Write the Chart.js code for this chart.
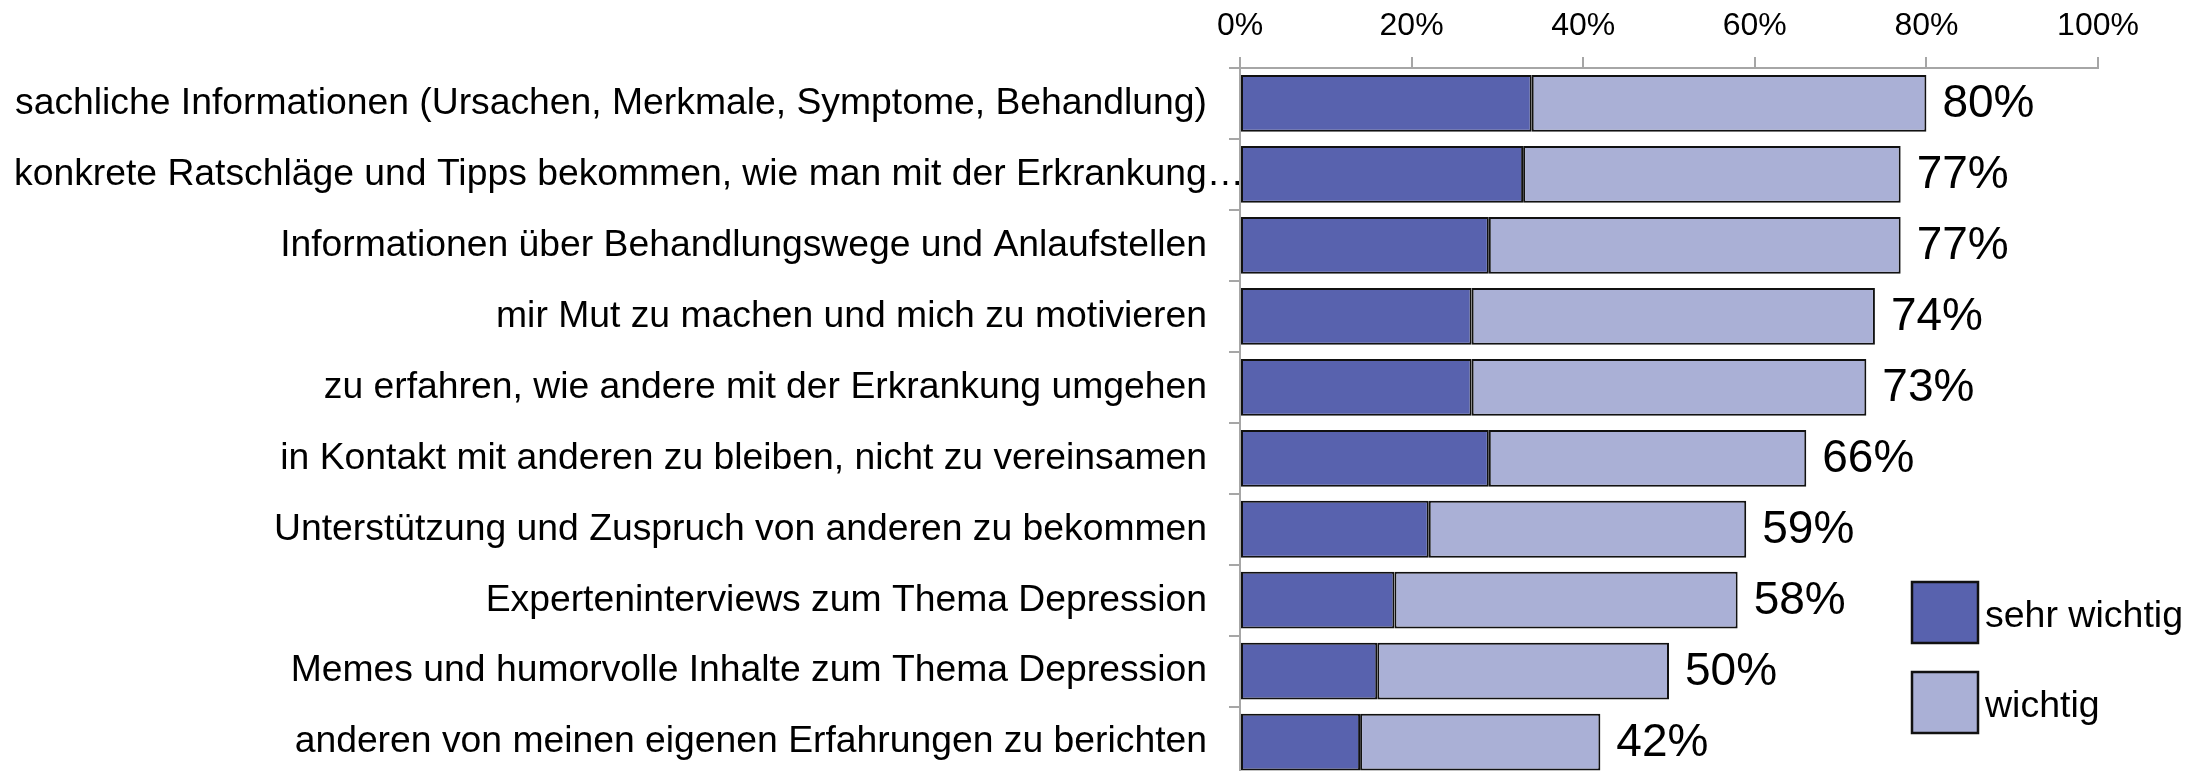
<!DOCTYPE html>
<html>
<head>
<meta charset="utf-8">
<script src="https://cdn.jsdelivr.net/npm/chart.js"></script>
<style>
  html, body { margin: 0; padding: 0; background: #ffffff; overflow: hidden; width: 2192px; height: 771px; }
  #wrap { position: relative; width: 2192px; height: 822px; }
</style>
</head>
<body>
<div id="wrap"><canvas id="c"></canvas></div>
<script>
const categories = [
  "sachliche Informationen (Ursachen, Merkmale, Symptome, Behandlung)",
  "konkrete Ratschläge und Tipps bekommen, wie man mit der Erkrankung…",
  "Informationen über Behandlungswege und Anlaufstellen",
  "mir Mut zu machen und mich zu motivieren",
  "zu erfahren, wie andere mit der Erkrankung umgehen",
  "in Kontakt mit anderen zu bleiben, nicht zu vereinsamen",
  "Unterstützung und Zuspruch von anderen zu bekommen",
  "Experteninterviews zum Thema Depression",
  "Memes und humorvolle Inhalte zum Thema Depression",
  "anderen von meinen eigenen Erfahrungen zu berichten"
];
const sehrWichtig = [34, 33, 29, 27, 27, 29, 22, 18, 16, 14];
const wichtig     = [46, 44, 48, 47, 46, 37, 37, 40, 34, 28];
const seriesNames = ["sehr wichtig", "wichtig"];
const xTicks = [0, 20, 40, 60, 80, 100];

const FONT = '"Liberation Sans", Arial, sans-serif';
const DARK = '#5862AE';
const LIGHT = '#AAB0D6';
const AXIS = '#a6a6a6';
const LONG_LABEL = 1; // label that overflows to the left edge in the original

const totalLabels = {
  id: 'totalLabels',
  afterDatasetsDraw(chart) {
    const ctx = chart.ctx;
    const xs = chart.scales.x, ys = chart.scales.y;
    ctx.save();
    ctx.font = '46px ' + FONT;
    ctx.fillStyle = '#000';
    ctx.textAlign = 'left';
    ctx.textBaseline = 'middle';
    categories.forEach((c, i) => {
      const total = sehrWichtig[i] + wichtig[i];
      const x = xs.getPixelForValue(total) + 16;
      const y = ys.getPixelForValue(i) + 1;
      ctx.fillText(total + '%', x, y);
    });
    // long truncated category label, left-aligned like the original
    ctx.font = '37.3px ' + FONT;
    ctx.textAlign = 'left';
    ctx.fillText(categories[LONG_LABEL], 14, ys.getPixelForValue(LONG_LABEL));
    ctx.restore();
  }
};

const boxLegend = {
  id: 'boxLegend',
  afterDraw(chart) {
    const ctx = chart.ctx;
    const items = [
      { label: seriesNames[0], color: chart.data.datasets[0].backgroundColor, y: 582, ty: 617 },
      { label: seriesNames[1], color: chart.data.datasets[1].backgroundColor, y: 672, ty: 707 }
    ];
    ctx.save();
    items.forEach(it => {
      ctx.fillStyle = it.color;
      ctx.fillRect(1912, it.y, 66, 61);
      ctx.lineWidth = 2.5;
      ctx.strokeStyle = '#111';
      ctx.strokeRect(1912, it.y, 66, 61);
      ctx.font = '37.5px ' + FONT;
      ctx.fillStyle = '#000';
      ctx.textAlign = 'left';
      ctx.textBaseline = 'middle';
      ctx.fillText(it.label, 1985, it.ty);
    });
    ctx.restore();
  }
};

new Chart(document.getElementById('c'), {
  type: 'bar',
  data: {
    labels: categories,
    datasets: [
      { label: seriesNames[0], data: sehrWichtig, backgroundColor: DARK, borderColor: '#111', borderWidth: 2, borderSkipped: false },
      { label: seriesNames[1], data: wichtig, backgroundColor: LIGHT, borderColor: '#111', borderWidth: 2, borderSkipped: false }
    ]
  },
  options: {
    indexAxis: 'y',
    responsive: true,
    maintainAspectRatio: false,
    animation: false,
    layout: { padding: { left: 0, right: 94, top: 0, bottom: 0 } },
    datasets: { bar: { barPercentage: 0.8, categoryPercentage: 1.0 } },
    plugins: { legend: { display: false }, tooltip: { enabled: false } },
    scales: {
      x: {
        position: 'top',
        stacked: true,
        min: 0, max: 100,
        afterBuildTicks(scale) { scale.ticks = xTicks.map(v => ({ value: v })); },
        ticks: {
          callback: v => v + '%',
          font: { family: FONT, size: 32 },
          color: '#000',
          padding: 12,
          maxRotation: 0
        },
        grid: { drawOnChartArea: false, drawTicks: true, tickLength: 11, color: AXIS, lineWidth: 2 },
        border: { display: true, color: AXIS, width: 2 },
        afterFit(scale) { scale.height = 68; }
      },
      y: {
        stacked: true,
        offset: true,
        ticks: {
          font: { family: FONT, size: 37.3 },
          color: ctx => ctx.index === LONG_LABEL ? 'rgba(0,0,0,0)' : '#000',
          padding: 22,
          autoSkip: false
        },
        grid: { offset: true, drawOnChartArea: false, drawTicks: true, tickLength: 11, color: AXIS, lineWidth: 2 },
        border: { display: true, color: AXIS, width: 2 },
        afterFit(scale) { scale.width = 1240; }
      }
    }
  },
  plugins: [totalLabels, boxLegend]
});
</script>
</body>
</html>
